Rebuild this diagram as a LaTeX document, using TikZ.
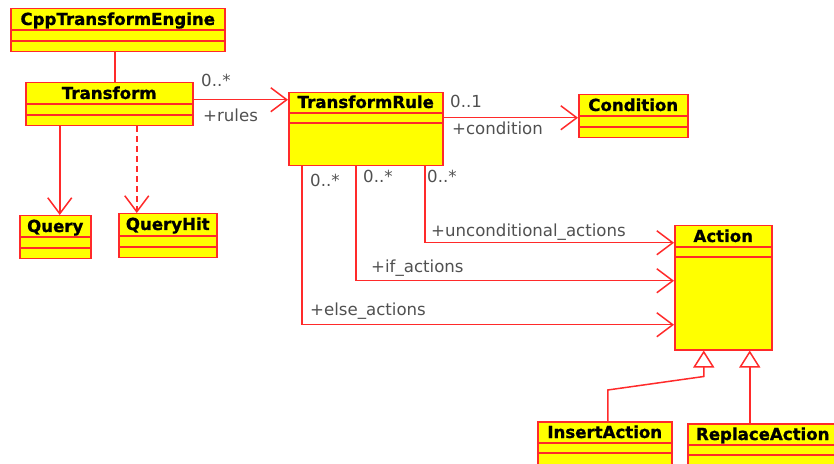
\documentclass[tikz,border=0pt]{standalone}
\usepackage{fontspec}
\setmainfont{DejaVu Sans}
\newfontfamily\clsfont[BoldFeatures={FakeBold=1}]{DejaVu Sans}
\usepackage{xcolor}
\usepackage{tikz}
\usetikzlibrary{arrows.meta}
\definecolor{UMLRed}{HTML}{FF2A2A}
\definecolor{UMLYellow}{HTML}{FFFF00}
\definecolor{UMLGrey}{HTML}{505050}

\begin{document}
\begin{tikzpicture}[x=1pt,y=1pt,
  umlclass/.style 2 args={draw=UMLRed,fill=UMLYellow,line width=1.5pt,anchor=north west,inner sep=0pt,minimum width=#1,minimum height=#2},
  clsname/.style={anchor=base,inner sep=0pt,font=\clsfont\bfseries\fontsize{16.6}{20}\selectfont},
  rolelabel/.style={anchor=base west,inner sep=0pt,text=UMLGrey,font=\fontsize{16.6}{20}\selectfont},
  compline/.style={draw=UMLRed,line width=1.5pt},
  assoc/.style={draw=UMLRed,line width=1.5pt},
  nav/.style={assoc,-{Straight Barb[length=16pt,width=24pt]}},
  gen/.style={assoc,-{Triangle[open,length=17pt,width=21pt,fill=white]}}]
\path[use as bounding box] (0,0) rectangle (834,463);
\node[umlclass={214pt}{43pt}] (engine) at (10,455) {};
\node[umlclass={167pt}{43pt}] (transform) at (25,381) {};
\node[umlclass={154pt}{73pt}] (rule) at (288,371) {};
\node[umlclass={109pt}{43pt}] (condition) at (578,369) {};
\node[umlclass={71pt}{43pt}] (query) at (19,248) {};
\node[umlclass={98pt}{44pt}] (queryhit) at (118,250) {};
\node[umlclass={97pt}{124pt}] (action) at (674,238) {};
\node[umlclass={134pt}{60pt}] (insert) at (537,42) {};
\node[umlclass={150pt}{60pt}] (replace) at (687,40) {};
\node[clsname] (enginename) at ([yshift=-17pt]engine.north) {CppTransformEngine};
\node[clsname] (transformname) at ([yshift=-17pt]transform.north) {Transform};
\node[clsname] (rulename) at ([yshift=-16pt]rule.north) {TransformRule};
\node[clsname] (conditionname) at ([yshift=-17pt]condition.north) {Condition};
\node[clsname] (queryname) at ([yshift=-17pt]query.north) {Query};
\node[clsname] (queryhitname) at ([yshift=-17pt]queryhit.north) {QueryHit};
\node[clsname] (actionname) at ([yshift=-17pt]action.north) {Action};
\node[clsname] (insertname) at ([yshift=-17pt]insert.north) {InsertAction};
\node[clsname] (replacename) at ([yshift=-17pt]replace.north) {ReplaceAction};
\draw[compline] ([yshift=-22pt]engine.north west) -- ([yshift=-22pt]engine.north east);
\draw[compline] ([yshift=-33pt]engine.north west) -- ([yshift=-33pt]engine.north east);
\draw[compline] ([yshift=-22pt]transform.north west) -- ([yshift=-22pt]transform.north east);
\draw[compline] ([yshift=-33pt]transform.north west) -- ([yshift=-33pt]transform.north east);
\draw[compline] ([yshift=-21pt]rule.north west) -- ([yshift=-21pt]rule.north east);
\draw[compline] ([yshift=-31pt]rule.north west) -- ([yshift=-31pt]rule.north east);
\draw[compline] ([yshift=-22pt]condition.north west) -- ([yshift=-22pt]condition.north east);
\draw[compline] ([yshift=-33pt]condition.north west) -- ([yshift=-33pt]condition.north east);
\draw[compline] ([yshift=-22pt]query.north west) -- ([yshift=-22pt]query.north east);
\draw[compline] ([yshift=-33pt]query.north west) -- ([yshift=-33pt]query.north east);
\draw[compline] ([yshift=-23pt]queryhit.north west) -- ([yshift=-23pt]queryhit.north east);
\draw[compline] ([yshift=-34pt]queryhit.north west) -- ([yshift=-34pt]queryhit.north east);
\draw[compline] ([yshift=-22pt]action.north west) -- ([yshift=-22pt]action.north east);
\draw[compline] ([yshift=-32pt]action.north west) -- ([yshift=-32pt]action.north east);
\draw[compline] ([yshift=-22pt]insert.north west) -- ([yshift=-22pt]insert.north east);
\draw[compline] ([yshift=-32pt]insert.north west) -- ([yshift=-32pt]insert.north east);
\draw[compline] ([yshift=-22pt]replace.north west) -- ([yshift=-22pt]replace.north east);
\draw[compline] ([yshift=-32pt]replace.north west) -- ([yshift=-32pt]replace.north east);
\coordinate (enginedown) at ([xshift=-3pt]engine.south);
\coordinate (rulein) at ([yshift=29.5pt]rule.west);
\coordinate (conditionin) at ([yshift=-1.5pt]condition.west);
\coordinate (queryin) at ([xshift=4.5pt]query.north);
\coordinate (queryhitin) at ([xshift=-31pt]queryhit.north);
\coordinate (uncondin) at ([yshift=45pt]action.west);
\coordinate (ifin) at ([yshift=7pt]action.west);
\coordinate (elsein) at ([yshift=-37pt]action.west);
\coordinate (insertup) at ([xshift=-19.5pt]action.south);
\coordinate (replaceup) at ([xshift=26.5pt]action.south);
\draw[assoc] (enginedown) -- (enginedown |- transform.north);
\draw[nav] (transform.east |- rulein) -- (rulein);
\draw[nav] (rule.east |- conditionin) -- (conditionin);
\draw[nav] (transform.south -| queryin) -- (queryin);
\draw[nav,dash pattern=on 6pt off 4pt] (transform.south -| queryhitin) -- (queryhitin);
\draw[nav] ([xshift=59pt]rule.south) |- (uncondin);
\draw[nav] ([xshift=-10pt]rule.south) |- (ifin);
\draw[nav] ([xshift=-64pt]rule.south) |- (elsein);
\draw[gen] ([xshift=3pt]insert.north) -- ++(0,31) -- ([yshift=-26pt]insertup) -- (insertup);
\draw[gen] (replace.north -| replaceup) -- (replaceup);
\node[rolelabel] (rulesmult) at (201,376) {0..*};
\node[rolelabel] (rulesrole) at (203,341) {+rules};
\node[rolelabel] (condmult) at (450,355) {0..1};
\node[rolelabel] (condrole) at (452,328) {+condition};
\node[rolelabel] (elsemult) at (310,276) {0..*};
\node[rolelabel] (ifmult) at (363,280) {0..*};
\node[rolelabel] (uncondmult) at (427,280) {0..*};
\node[rolelabel] (uncondrole) at (431,226) {+unconditional\_actions};
\node[rolelabel] (ifrole) at (371,190) {+if\_actions};
\node[rolelabel] (elserole) at (310,147) {+else\_actions};
\end{tikzpicture}
\end{document}
